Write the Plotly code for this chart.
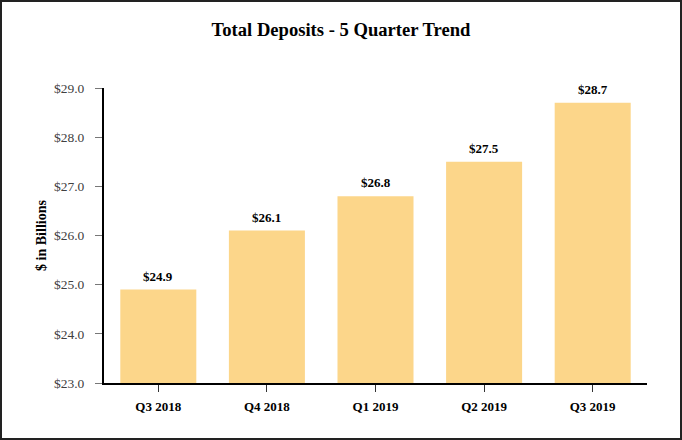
import plotly.graph_objects as go

categories = ["Q3 2018", "Q4 2018", "Q1 2019", "Q2 2019", "Q3 2019"]
values = [24.9, 26.1, 26.8, 27.5, 28.7]
labels = ["$24.9", "$26.1", "$26.8", "$27.5", "$28.7"]
y_ticks = [23, 24, 25, 26, 27, 28, 29]
y_tick_text = ["$23.0", "$24.0", "$25.0", "$26.0", "$27.0", "$28.0", "$29.0"]

W, H = 682, 440
L, R, T, B = 104, 35, 88, 57
pw, ph = W - L - R, H - T - B
font = "Liberation Serif, Times New Roman, serif"

fig = go.Figure(go.Bar(
    x=categories, y=values, base=0,
    marker=dict(color="#FCD68A", line=dict(width=0)),
    width=0.7,
    hoverinfo="x+y",
))

for c, v, t in zip(categories, values, labels):
    fig.add_annotation(x=c, y=v, text="<b>" + t + "</b>", showarrow=False,
                       yanchor="bottom", yshift=4,
                       font=dict(family=font, size=13, color="black"))

fig.update_layout(
    width=W, height=H,
    margin=dict(l=L, r=R, t=T, b=B),
    paper_bgcolor="white", plot_bgcolor="white",
    title=dict(text="<b>Total Deposits - 5 Quarter Trend</b>", x=0.5, xanchor="center",
               y=1 - 29 / H, yanchor="middle",
               font=dict(family=font, size=18.6, color="black")),
    showlegend=False,
    font=dict(family=font),
)
fig.update_xaxes(
    showline=True, linecolor="black", linewidth=2,
    ticks="outside", ticklen=7, tickcolor="#333", tickwidth=1,
    tickfont=dict(family=font, size=13, color="black"),
    tickprefix="<b>", ticksuffix="</b>",
    ticklabelstandoff=3,
    showgrid=False,
)
fig.update_yaxes(
    range=[23, 29], tickvals=y_ticks, ticktext=y_tick_text,
    showline=True, linecolor="black", linewidth=2,
    ticks="outside", ticklen=7, tickcolor="#777", tickwidth=1,
    tickfont=dict(family=font, size=13.5, color="#404040"),
    ticklabelstandoff=8,
    showgrid=False, zeroline=False,
    title=dict(text="<b>$ in Billions</b>", font=dict(family=font, size=14, color="black"), standoff=4),
)
fig.add_shape(type="rect", xref="paper", yref="paper",
              x0=-(L - 1) / pw, x1=1 + (R - 1) / pw, y0=-(B - 1) / ph, y1=1 + (T - 1) / ph,
              line=dict(color="#222", width=2))

fig.write_html("out.html", config={"displayModeBar": False},
               post_script="document.body.style.margin='0';document.body.style.padding='0';")
